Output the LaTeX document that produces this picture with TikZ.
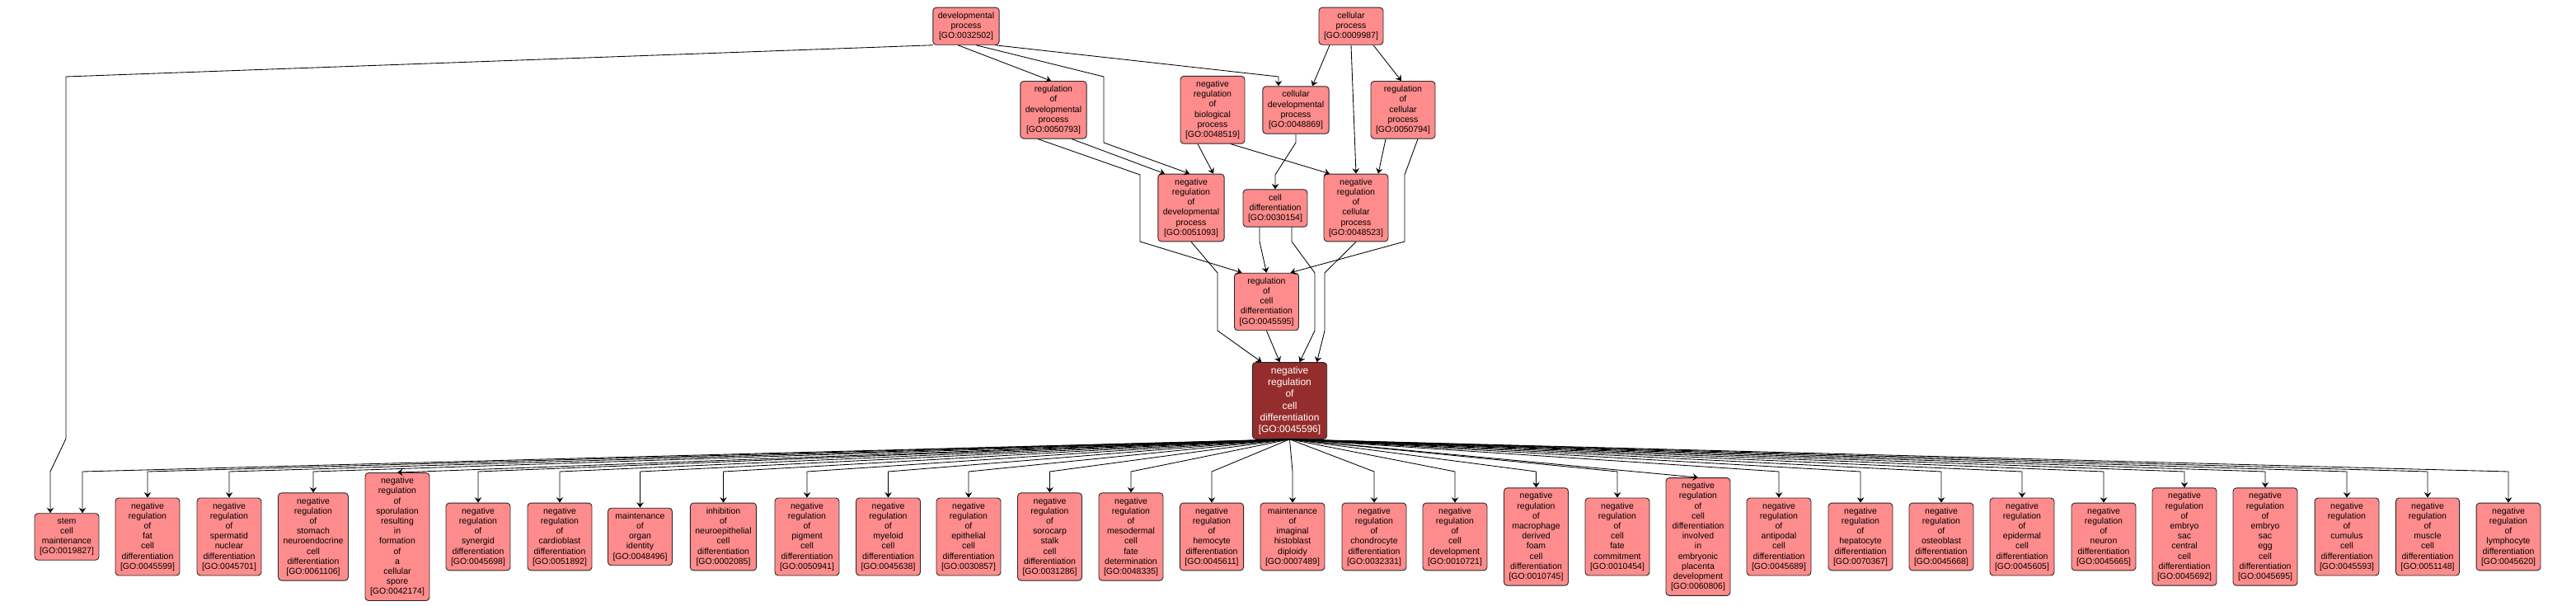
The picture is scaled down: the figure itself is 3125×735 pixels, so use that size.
\documentclass[tikz,border=0pt]{standalone}
\usepackage{fontspec}
\setmainfont{Liberation Sans}
\usetikzlibrary{arrows.meta}
\definecolor{termpink}{RGB}{255,140,140}
\definecolor{termred}{RGB}{150,45,45}
\newcommand{\goid}[1]{[GO:#1]}
\tikzset{
  goterm/.style={draw=black!85, line width=0.9pt, fill=termpink, rounded corners=4pt,
    align=center, inner xsep=6pt, inner ysep=5.5pt, font=\fontsize{10.5}{12.2}\selectfont},
  focusterm/.style={goterm, fill=termred, text=white, inner xsep=7.5pt, inner ysep=5pt,
    font=\fontsize{12}{14.3}\selectfont},
  isa/.style={-{Stealth[length=6.5pt,width=8.5pt,inset=2.3pt]}, line width=0.85pt}
}

\begin{document}
\begin{tikzpicture}[x=1pt,y=-1pt]
\useasboundingbox (0,0) rectangle (3125,735);

% Top terms
\node[goterm] (devproc) at (1172,31.7) {developmental\\process\\\goid{0032502}};
\node[goterm] (cellproc) at (1639,31.7) {cellular\\process\\\goid{0009987}};

% Second level
\node[goterm] (regdev) at (1278,133.3) {regulation\\of\\developmental\\process\\\goid{0050793}};
\node[goterm] (negbio) at (1471,133.3) {negative\\regulation\\of\\biological\\process\\\goid{0048519}};
\node[goterm] (celldevproc) at (1572,133.5) {cellular\\developmental\\process\\\goid{0048869}};
\node[goterm] (regcellproc) at (1702,133.3) {regulation\\of\\cellular\\process\\\goid{0050794}};

% Third level
\node[goterm] (negdev) at (1445,252) {negative\\regulation\\of\\developmental\\process\\\goid{0051093}};
\node[goterm] (celldiff) at (1547,252.5) {cell\\differentiation\\\goid{0030154}};
\node[goterm] (negcellproc) at (1645,252) {negative\\regulation\\of\\cellular\\process\\\goid{0048523}};
\node[goterm] (regcelldiff) at (1536.5,366) {regulation\\of\\cell\\differentiation\\\goid{0045595}};

% The term itself
\node[focusterm] (negcelldiff) at (1564.5,486) {negative\\regulation\\of\\cell\\differentiation\\\goid{0045596}};

% Child terms
\node[goterm] (stemcell) at (81,651) {stem\\cell\\maintenance\\\goid{0019827}};
\node[goterm] (fatcell) at (179,651) {negative\\regulation\\of\\fat\\cell\\differentiation\\\goid{0045599}};
\node[goterm] (spermatid) at (278,651) {negative\\regulation\\of\\spermatid\\nuclear\\differentiation\\\goid{0045701}};
\node[goterm] (stomach) at (380,651) {negative\\regulation\\of\\stomach\\neuroendocrine\\cell\\differentiation\\\goid{0061106}};
\node[goterm] (sporulation) at (482,651) {negative\\regulation\\of\\sporulation\\resulting\\in\\formation\\of\\a\\cellular\\spore\\\goid{0042174}};
\node[goterm] (synergid) at (580,651) {negative\\regulation\\of\\synergid\\differentiation\\\goid{0045698}};
\node[goterm] (cardioblast) at (679,651) {negative\\regulation\\of\\cardioblast\\differentiation\\\goid{0051892}};
\node[goterm] (organid) at (776.5,651) {maintenance\\of\\organ\\identity\\\goid{0048496}};
\node[goterm] (neuroepi) at (877.5,651) {inhibition\\of\\neuroepithelial\\cell\\differentiation\\\goid{0002085}};
\node[goterm] (pigment) at (979,651) {negative\\regulation\\of\\pigment\\cell\\differentiation\\\goid{0050941}};
\node[goterm] (myeloid) at (1077.5,651) {negative\\regulation\\of\\myeloid\\cell\\differentiation\\\goid{0045638}};
\node[goterm] (epithelial) at (1175,651) {negative\\regulation\\of\\epithelial\\cell\\differentiation\\\goid{0030857}};
\node[goterm] (sorocarp) at (1273.5,651) {negative\\regulation\\of\\sorocarp\\stalk\\cell\\differentiation\\\goid{0031286}};
\node[goterm] (mesoderm) at (1372,651) {negative\\regulation\\of\\mesodermal\\cell\\fate\\determination\\\goid{0048335}};
\node[goterm] (hemocyte) at (1470,651) {negative\\regulation\\of\\hemocyte\\differentiation\\\goid{0045611}};
\node[goterm] (histoblast) at (1568,651) {maintenance\\of\\imaginal\\histoblast\\diploidy\\\goid{0007489}};
\node[goterm] (chondrocyte) at (1667,651) {negative\\regulation\\of\\chondrocyte\\differentiation\\\goid{0032331}};
\node[goterm] (celldev) at (1765,651) {negative\\regulation\\of\\cell\\development\\\goid{0010721}};
\node[goterm] (foamcell) at (1863.5,651) {negative\\regulation\\of\\macrophage\\derived\\foam\\cell\\differentiation\\\goid{0010745}};
\node[goterm] (cellfate) at (1962,651) {negative\\regulation\\of\\cell\\fate\\commitment\\\goid{0010454}};
\node[goterm] (placenta) at (2060,651) {negative\\regulation\\of\\cell\\differentiation\\involved\\in\\embryonic\\placenta\\development\\\goid{0060806}};
\node[goterm] (antipodal) at (2158,651) {negative\\regulation\\of\\antipodal\\cell\\differentiation\\\goid{0045689}};
\node[goterm] (hepatocyte) at (2257,651) {negative\\regulation\\of\\hepatocyte\\differentiation\\\goid{0070367}};
\node[goterm] (osteoblast) at (2355,651) {negative\\regulation\\of\\osteoblast\\differentiation\\\goid{0045668}};
\node[goterm] (epidermal) at (2453,651) {negative\\regulation\\of\\epidermal\\cell\\differentiation\\\goid{0045605}};
\node[goterm] (neuron) at (2552,651) {negative\\regulation\\of\\neuron\\differentiation\\\goid{0045665}};
\node[goterm] (centralcell) at (2650,651) {negative\\regulation\\of\\embryo\\sac\\central\\cell\\differentiation\\\goid{0045692}};
\node[goterm] (eggcell) at (2748,651) {negative\\regulation\\of\\embryo\\sac\\egg\\cell\\differentiation\\\goid{0045695}};
\node[goterm] (cumulus) at (2847,651) {negative\\regulation\\of\\cumulus\\cell\\differentiation\\\goid{0045593}};
\node[goterm] (muscle) at (2945,651) {negative\\regulation\\of\\muscle\\cell\\differentiation\\\goid{0051148}};
\node[goterm] (lymphocyte) at (3043,651) {negative\\regulation\\of\\lymphocyte\\differentiation\\\goid{0045620}};

% Edges from the top terms
\draw[isa] ([xshift=-10pt]devproc.south) -- ([xshift=-3pt]regdev.north);
\draw[isa] ([xshift=12pt]devproc.south) -- (1339,93) -- (1339,173) -- ([xshift=-2pt]negdev.north);
\draw[isa] ([xshift=35pt]devproc.south) -- (1551,93) -- ([xshift=-21pt]celldevproc.north);
\draw[isa] ([xshift=-40pt]devproc.south) -- (80,93) -- (80,532) -- (61,572) -- ([xshift=-20pt]stemcell.north);
\draw[isa] ([xshift=-26pt]cellproc.south) -- ([xshift=20pt]celldevproc.north);
\draw[isa] (cellproc.south) -- (negcellproc.north);
\draw[isa] ([xshift=27pt]cellproc.south) -- ([xshift=-2pt]regcellproc.north);

% Edges from the second level
\draw[isa] ([xshift=-19pt]regdev.south) -- (1383,212) -- (1383,293) -- ([xshift=-30pt]regcelldiff.north);
\draw[isa] ([xshift=22pt]regdev.south) -- ([xshift=-32pt]negdev.north);
\draw[isa] ([xshift=-18pt]negbio.south) -- ([xshift=27pt]negdev.north);
\draw[isa] ([xshift=22pt]negbio.south) -- ([xshift=-32pt]negcellproc.north);
\draw[isa] (celldevproc.south) -- (1572,173) -- (1547,212) -- (celldiff.north);
\draw[isa] ([xshift=-21pt]regcellproc.south) -- ([xshift=27pt]negcellproc.north);
\draw[isa] ([xshift=18pt]regcellproc.south) -- (1704,212) -- (1704,293) -- ([xshift=29pt]regcelldiff.north);

% Edges into the term
\draw[isa] (negdev.south) -- (1477,331) -- (1477,401) -- ([xshift=-34pt]negcelldiff.north);
\draw[isa] ([xshift=-19pt]celldiff.south) -- (1528,293) -- (regcelldiff.north);
\draw[isa] ([xshift=20pt]celldiff.south) -- (1567,293) -- (1595,331) -- (1595,401) -- ([xshift=12pt]negcelldiff.north);
\draw[isa] (negcellproc.south) -- (1607,331) -- (1607,401) -- ([xshift=33pt]negcelldiff.north);
\draw[isa] (regcelldiff.south) -- ([xshift=-12pt]negcelldiff.north);

% Fan out to the child terms
\coordinate (fan) at (0,572);
\coordinate (stemin) at ([xshift=19pt]stemcell.north);
\draw[isa] (negcelldiff.south) -- (stemin |- fan) -- (stemin);
\draw[isa] (negcelldiff.south) -- (fatcell.north |- fan) -- (fatcell.north);
\draw[isa] (negcelldiff.south) -- (spermatid.north |- fan) -- (spermatid.north);
\draw[isa] (negcelldiff.south) -- (stomach.north |- fan) -- (stomach.north);
\draw[isa] (negcelldiff.south) -- (sporulation.north);
\draw[isa] (negcelldiff.south) -- (synergid.north |- fan) -- (synergid.north);
\draw[isa] (negcelldiff.south) -- (cardioblast.north |- fan) -- (cardioblast.north);
\draw[isa] (negcelldiff.south) -- (organid.north |- fan) -- (organid.north);
\draw[isa] (negcelldiff.south) -- (neuroepi.north |- fan) -- (neuroepi.north);
\draw[isa] (negcelldiff.south) -- (pigment.north |- fan) -- (pigment.north);
\draw[isa] (negcelldiff.south) -- (myeloid.north |- fan) -- (myeloid.north);
\draw[isa] (negcelldiff.south) -- (epithelial.north |- fan) -- (epithelial.north);
\draw[isa] (negcelldiff.south) -- (sorocarp.north |- fan) -- (sorocarp.north);
\draw[isa] (negcelldiff.south) -- (mesoderm.north |- fan) -- (mesoderm.north);
\draw[isa] (negcelldiff.south) -- (hemocyte.north |- fan) -- (hemocyte.north);
\draw[isa] (negcelldiff.south) -- (histoblast.north |- fan) -- (histoblast.north);
\draw[isa] (negcelldiff.south) -- (chondrocyte.north |- fan) -- (chondrocyte.north);
\draw[isa] (negcelldiff.south) -- (celldev.north |- fan) -- (celldev.north);
\draw[isa] (negcelldiff.south) -- (foamcell.north |- fan) -- (foamcell.north);
\draw[isa] (negcelldiff.south) -- (cellfate.north |- fan) -- (cellfate.north);
\draw[isa] (negcelldiff.south) -- (placenta.north);
\draw[isa] (negcelldiff.south) -- (antipodal.north |- fan) -- (antipodal.north);
\draw[isa] (negcelldiff.south) -- (hepatocyte.north |- fan) -- (hepatocyte.north);
\draw[isa] (negcelldiff.south) -- (osteoblast.north |- fan) -- (osteoblast.north);
\draw[isa] (negcelldiff.south) -- (epidermal.north |- fan) -- (epidermal.north);
\draw[isa] (negcelldiff.south) -- (neuron.north |- fan) -- (neuron.north);
\draw[isa] (negcelldiff.south) -- (centralcell.north |- fan) -- (centralcell.north);
\draw[isa] (negcelldiff.south) -- (eggcell.north |- fan) -- (eggcell.north);
\draw[isa] (negcelldiff.south) -- (cumulus.north |- fan) -- (cumulus.north);
\draw[isa] (negcelldiff.south) -- (muscle.north |- fan) -- (muscle.north);
\draw[isa] (negcelldiff.south) -- (lymphocyte.north |- fan) -- (lymphocyte.north);
\end{tikzpicture}
\end{document}
